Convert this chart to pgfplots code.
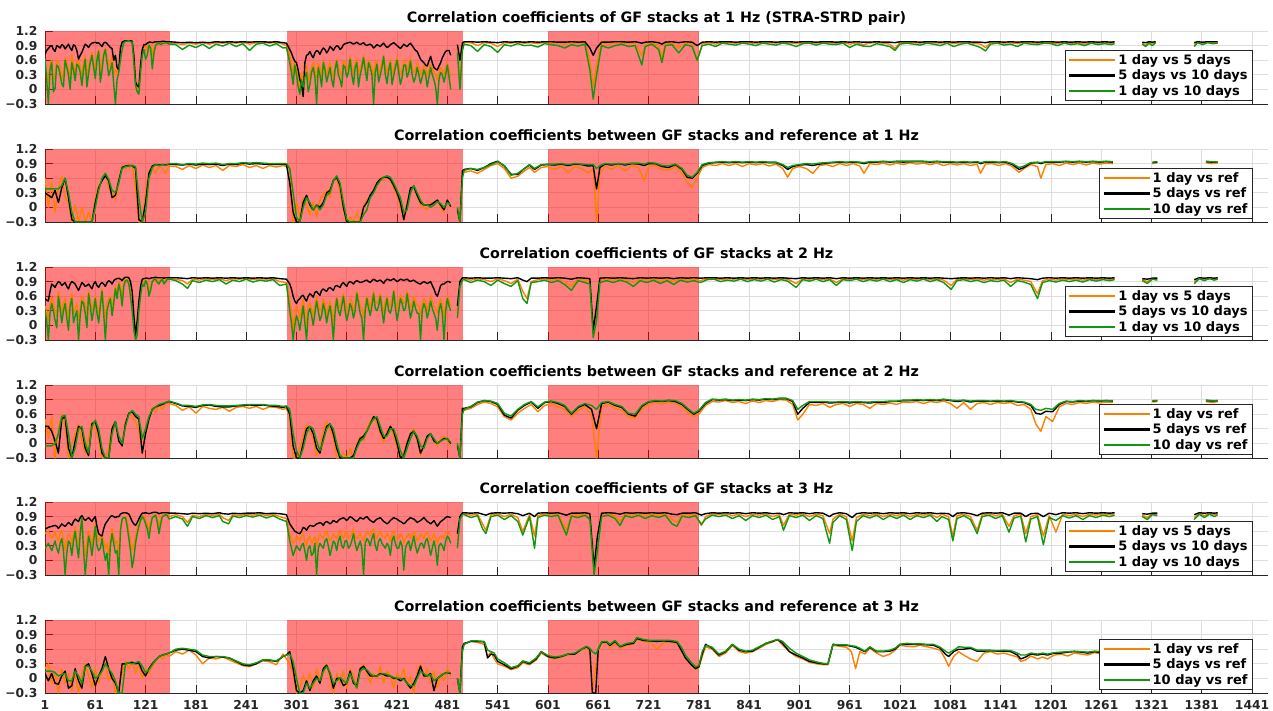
\documentclass[border=0pt]{standalone}
\usepackage{pgfplots}
\pgfplotsset{compat=1.18}
\usepackage{pgfplotstable}
\usepackage{fontspec}
\setmainfont{DejaVu Sans}

\definecolor{corange}{RGB}{255,128,0}
\definecolor{cgreen}{RGB}{18,150,18}
\definecolor{axgray}{RGB}{38,38,38}

% ---------------- 1 Hz, stack vs stack ----------------
\pgfplotstableread{
x o k g
1 0.55 0.72 0.62
3 0.35 0.80 0.20
5 0.15 0.84 -0.30
7 0.50 0.88 0.40
9 0.62 0.90 0.55
11 0.20 0.82 -0.05
13 0.28 0.78 0.02
15 0.60 0.90 0.50
17 0.58 0.88 0.46
19 0.45 0.85 0.30
21 0.22 0.92 0.12
23 0.30 0.90 0.05
25 0.66 0.83 0.60
27 0.55 0.88 0.45
29 0.42 0.93 0.30
31 0.20 0.85 0.00
33 0.72 0.80 0.55
35 0.50 0.92 0.40
37 0.33 0.89 0.18
39 0.60 0.80 0.52
41 0.58 0.62 0.48
43 0.45 0.70 0.35
45 0.28 0.76 0.08
47 0.55 0.85 0.40
49 0.70 0.93 0.62
51 0.25 0.90 0.05
53 0.48 0.86 0.33
55 0.62 0.92 0.55
57 0.76 0.95 0.70
59 0.55 0.96 0.45
61 0.40 0.97 0.22
63 0.68 0.95 0.60
65 0.82 0.96 0.78
67 0.35 0.92 0.15
69 0.55 0.88 0.38
71 0.75 0.95 0.70
73 0.86 0.97 0.82
75 0.65 0.94 0.55
77 0.48 0.90 0.28
79 0.55 0.86 0.40
81 0.70 0.84 0.55
83 0.30 0.60 0.10
85 0.40 0.70 -0.30
87 0.35 0.45 0.20
89 0.42 0.40 0.35
91 0.70 0.85 0.60
93 0.86 0.97 0.82
95 0.95 0.99 0.95
97 0.99 1.00 0.99
99 1.00 1.00 0.99
101 1.00 1.00 1.00
103 0.99 1.00 0.98
105 0.98 0.99 0.97
107 0.60 0.70 0.55
109 0.20 0.15 0.08
111 0.00 0.08 -0.05
113 -0.05 0.05 -0.10
115 0.40 0.50 0.35
117 0.75 0.82 0.70
119 0.88 0.92 0.82
121 0.90 0.92 0.62
123 0.80 0.95 0.70
125 0.95 0.97 0.90
127 0.90 0.97 0.85
129 0.70 0.96 0.42
131 0.85 0.97 0.75
133 0.93 0.98 0.90
135 0.96 0.98 0.94
137 0.97 0.98 0.95
139 0.95 0.98 0.92
141 0.96 0.99 0.94
143 0.97 0.99 0.95
145 0.98 0.98 0.96
147 0.96 0.98 0.95
149 0.95 0.98 0.93
157 0.95 0.97 0.92
165 0.92 0.96 0.82
173 0.95 0.97 0.91
181 0.93 0.96 0.86
189 0.96 0.97 0.93
197 0.93 0.96 0.84
205 0.96 0.98 0.93
213 0.95 0.97 0.89
221 0.97 0.98 0.95
229 0.95 0.97 0.88
237 0.97 0.98 0.94
245 0.93 0.97 0.80
253 0.96 0.98 0.93
261 0.97 0.98 0.95
269 0.95 0.97 0.89
277 0.97 0.98 0.94
285 0.93 0.96 0.85
289 0.90 0.95 0.86
293 0.70 0.82 0.55
295 0.50 0.75 0.35
297 0.30 0.65 0.10
299 0.60 0.58 0.50
301 0.45 0.55 0.30
303 0.25 0.40 0.05
305 0.05 0.20 -0.10
307 0.35 0.10 0.20
309 0.20 -0.15 0.05
311 0.40 0.55 0.25
313 0.50 0.70 0.35
315 0.15 0.72 -0.05
317 0.30 0.78 0.10
319 0.45 0.70 0.35
321 0.55 0.65 0.45
323 0.40 0.75 0.25
325 0.20 0.80 -0.30
327 0.55 0.78 0.45
329 0.45 0.72 0.30
331 0.25 0.80 0.05
333 0.60 0.85 0.55
335 0.50 0.82 0.40
337 0.30 0.75 0.15
339 0.45 0.80 0.30
341 0.55 0.88 0.45
343 0.35 0.85 0.20
345 0.25 0.80 0.05
347 0.50 0.86 0.40
349 0.62 0.90 0.58
351 0.45 0.88 0.30
353 0.35 0.82 0.20
355 0.25 0.85 0.05
357 0.58 0.92 0.50
359 0.55 0.94 0.45
361 0.40 0.95 0.25
363 0.50 0.96 0.35
365 0.68 0.97 0.62
367 0.45 0.95 0.30
369 0.32 0.93 0.10
371 0.55 0.95 0.45
373 0.62 0.97 0.55
375 0.30 0.94 0.05
377 0.45 0.92 0.30
379 0.55 0.94 0.45
381 0.70 0.96 0.65
383 0.50 0.92 0.40
385 0.38 0.90 0.18
387 0.60 0.92 0.55
389 0.55 0.93 0.45
391 0.45 0.90 0.30
393 0.25 0.85 -0.30
395 0.50 0.88 0.35
397 0.60 0.92 0.52
399 0.35 0.90 0.15
401 0.42 0.88 0.30
403 0.55 0.92 0.45
405 0.70 0.95 0.68
407 0.45 0.90 0.30
409 0.35 0.86 0.12
411 0.50 0.88 0.40
413 0.62 0.92 0.55
415 0.30 0.94 0.10
417 0.40 0.96 0.28
419 0.55 0.93 0.45
421 0.66 0.90 0.60
423 0.50 0.87 0.35
425 0.30 0.84 0.10
427 0.40 0.88 0.25
429 0.58 0.93 0.50
431 0.60 0.90 0.50
433 0.40 0.88 0.25
435 0.50 0.92 0.35
437 0.65 0.95 0.58
439 0.45 0.90 0.30
441 0.35 0.85 0.15
443 0.40 0.80 0.25
445 0.55 0.78 0.45
447 0.45 0.70 0.30
449 0.30 0.62 0.12
451 0.40 0.58 0.25
453 0.50 0.55 0.40
455 0.45 0.50 0.30
457 0.28 0.48 0.05
459 0.40 0.58 0.25
461 0.52 0.68 0.45
463 0.45 0.55 0.30
465 0.35 0.45 0.20
467 0.30 0.42 0.05
469 0.20 0.40 -0.30
471 0.35 0.48 0.20
473 0.45 0.55 0.35
475 0.40 0.65 0.30
477 0.30 0.72 0.15
479 0.45 0.78 0.30
481 0.55 0.80 0.50
483 0.40 0.80 0.25
485 0.25 0.70 0.00
489 nan nan nan
493 0.85 0.92 0.75
496 0.10 0.60 0.00
499 0.85 0.95 0.80
501 0.97 0.98 0.93
509 0.96 0.98 0.90
517 0.90 0.97 0.78
525 0.96 0.98 0.92
533 0.95 0.97 0.88
541 0.88 0.96 0.76
549 0.96 0.98 0.92
557 0.95 0.97 0.89
565 0.97 0.98 0.94
573 0.95 0.97 0.90
581 0.96 0.98 0.91
589 0.94 0.97 0.87
597 0.97 0.98 0.94
605 0.96 0.98 0.92
613 0.95 0.97 0.90
621 0.93 0.97 0.85
629 0.96 0.98 0.92
637 0.95 0.97 0.89
645 0.96 0.98 0.93
651 0.60 0.85 0.40
655 0.05 0.70 -0.20
659 0.50 0.85 0.30
665 0.95 0.97 0.90
673 0.93 0.97 0.85
681 0.95 0.98 0.90
689 0.96 0.98 0.93
697 0.94 0.97 0.88
705 0.95 0.98 0.90
713 0.70 0.95 0.50
717 0.92 0.97 0.88
725 0.96 0.98 0.93
733 0.90 0.96 0.82
737 0.65 0.93 0.55
741 0.93 0.97 0.90
749 0.95 0.98 0.92
757 0.85 0.96 0.75
765 0.95 0.98 0.92
773 0.93 0.97 0.88
779 0.58 0.90 0.60
785 0.94 0.97 0.90
793 0.96 0.98 0.93
801 0.93 0.97 0.88
809 0.97 0.98 0.95
817 0.96 0.98 0.93
825 0.95 0.97 0.91
833 0.97 0.98 0.95
841 0.96 0.98 0.93
849 0.94 0.97 0.90
857 0.97 0.98 0.95
865 0.96 0.98 0.93
873 0.95 0.97 0.91
881 0.97 0.98 0.95
889 0.96 0.98 0.93
897 0.94 0.97 0.88
905 0.96 0.98 0.94
913 0.97 0.98 0.95
921 0.95 0.97 0.91
929 0.97 0.98 0.95
937 0.96 0.98 0.93
945 0.95 0.97 0.92
953 0.97 0.98 0.95
961 0.93 0.97 0.86
969 0.96 0.98 0.93
977 0.92 0.97 0.89
985 0.95 0.97 0.88
993 0.97 0.98 0.94
1001 0.95 0.97 0.91
1009 0.93 0.97 0.88
1015 0.84 0.96 0.80
1021 0.96 0.98 0.93
1029 0.97 0.98 0.95
1037 0.96 0.98 0.93
1045 0.95 0.97 0.91
1053 0.97 0.98 0.95
1061 0.96 0.98 0.93
1069 0.95 0.97 0.90
1077 0.97 0.98 0.95
1085 0.94 0.97 0.88
1093 0.96 0.98 0.93
1101 0.97 0.98 0.95
1109 0.95 0.97 0.91
1117 0.93 0.97 0.86
1123 0.86 0.96 0.79
1129 0.96 0.98 0.93
1137 0.97 0.98 0.95
1145 0.95 0.97 0.91
1153 0.96 0.98 0.93
1161 0.94 0.97 0.88
1169 0.97 0.98 0.95
1177 0.96 0.98 0.93
1185 0.95 0.97 0.92
1193 0.97 0.98 0.95
1201 0.96 0.98 0.94
1209 0.94 0.97 0.90
1217 0.97 0.98 0.95
1225 0.95 0.97 0.92
1233 0.96 0.98 0.94
1241 0.93 0.97 0.90
1249 0.97 0.98 0.95
1257 0.95 0.97 0.92
1265 0.96 0.98 0.94
1273 0.95 0.97 0.92
1277 0.96 0.98 0.94
1281 nan nan nan
1310 0.95 0.97 0.93
1314 0.90 0.96 0.88
1318 0.97 0.98 0.95
1322 0.95 0.97 0.90
1326 0.97 0.98 0.96
1330 nan nan nan
1372 0.92 0.96 0.88
1376 0.97 0.98 0.96
1382 0.95 0.97 0.92
1388 0.97 0.98 0.96
1394 0.96 0.98 0.94
1400 0.97 0.98 0.95
}\stacksA

% ---------------- 1 Hz, stack vs reference ----------------
\pgfplotstableread{
x o k g
1 0.60 0.30 0.38
5 0.00 0.25 0.38
9 0.55 0.20 0.38
13 -0.10 0.35 0.38
17 0.40 0.10 0.38
21 0.65 0.40 0.45
25 0.20 0.60 0.60
29 0.10 0.20 0.30
33 -0.30 -0.25 -0.10
37 0.05 -0.30 -0.30
41 -0.30 -0.30 -0.30
45 0.00 -0.30 -0.30
49 -0.30 -0.30 -0.30
53 -0.10 -0.30 -0.30
57 -0.30 -0.30 -0.30
61 0.20 0.10 0.00
65 0.45 0.40 0.35
69 0.55 0.55 0.60
73 0.70 0.65 0.70
77 0.40 0.55 0.58
81 0.30 0.20 0.35
85 0.15 0.25 0.30
89 0.50 0.55 0.50
93 0.85 0.82 0.80
97 0.80 0.85 0.84
101 0.82 0.86 0.85
105 0.85 0.86 0.86
109 0.40 0.80 0.84
113 -0.30 -0.25 0.20
117 -0.30 -0.30 -0.30
121 0.30 0.10 -0.10
125 0.75 0.70 0.60
129 0.80 0.85 0.82
133 0.70 0.88 0.88
137 0.85 0.87 0.86
141 0.80 0.88 0.88
145 0.70 0.87 0.86
149 0.85 0.89 0.90
157 0.84 0.88 0.90
165 0.78 0.87 0.88
173 0.86 0.89 0.90
181 0.80 0.87 0.89
189 0.87 0.89 0.91
197 0.82 0.88 0.90
205 0.86 0.89 0.91
213 0.76 0.86 0.88
221 0.86 0.89 0.90
229 0.84 0.88 0.90
237 0.88 0.91 0.92
245 0.82 0.89 0.91
253 0.86 0.90 0.92
261 0.80 0.89 0.91
269 0.86 0.89 0.90
277 0.83 0.88 0.90
285 0.86 0.89 0.90
289 0.84 0.88 0.90
293 0.80 0.50 0.80
297 -0.30 -0.10 0.30
301 0.10 -0.30 -0.20
305 -0.20 -0.30 -0.30
309 0.20 0.10 0.00
313 0.05 0.25 0.20
317 -0.15 0.05 0.10
321 0.10 -0.05 -0.05
325 -0.20 0.05 0.05
329 0.15 0.00 -0.05
333 0.25 0.10 0.05
337 0.35 0.30 0.25
341 0.20 0.35 0.30
345 0.55 0.55 0.55
349 0.60 0.62 0.65
353 0.30 0.45 0.50
357 -0.05 0.00 0.10
361 -0.30 -0.30 -0.25
365 -0.20 -0.30 -0.30
369 -0.30 -0.30 -0.30
373 -0.10 -0.30 -0.30
377 -0.30 -0.30 -0.30
381 0.05 0.00 -0.15
385 0.15 0.10 -0.05
389 0.20 0.25 0.20
393 0.35 0.35 0.30
397 0.50 0.50 0.45
401 0.60 0.58 0.55
405 0.55 0.62 0.62
409 0.65 0.62 0.65
413 0.55 0.58 0.62
417 0.40 0.45 0.50
421 0.25 0.30 0.35
425 0.00 0.10 0.20
429 -0.25 -0.25 -0.10
433 0.10 0.05 -0.05
437 0.35 0.40 0.30
441 0.45 0.42 0.45
445 0.20 0.25 0.30
449 0.05 0.10 0.15
453 0.00 0.05 0.05
457 -0.05 0.05 0.05
461 0.10 0.05 0.00
465 0.05 0.10 0.05
469 0.15 0.15 0.12
473 0.00 0.05 0.08
477 -0.10 -0.05 0.00
481 0.15 0.15 0.10
485 0.00 0.02 0.05
489 nan nan nan
493 0.00 -0.05 0.00
496 -0.30 -0.30 -0.30
499 0.70 0.75 0.60
501 0.72 0.78 0.76
509 0.75 0.80 0.80
517 0.70 0.76 0.78
525 0.78 0.82 0.82
533 0.86 0.90 0.88
541 0.90 0.95 0.94
549 0.80 0.85 0.86
557 0.60 0.68 0.66
565 0.64 0.68 0.70
573 0.75 0.80 0.80
579 0.82 0.87 0.88
585 0.72 0.78 0.80
593 0.82 0.87 0.88
601 0.84 0.88 0.89
609 0.78 0.87 0.89
617 0.85 0.89 0.90
625 0.72 0.86 0.88
633 0.84 0.89 0.90
641 0.80 0.88 0.89
649 0.70 0.85 0.88
655 0.80 0.86 0.88
659 -0.30 0.38 0.80
663 0.70 0.82 0.86
669 0.85 0.89 0.90
677 0.78 0.87 0.89
685 0.86 0.90 0.90
693 0.75 0.87 0.89
701 0.86 0.90 0.91
709 0.82 0.89 0.91
716 0.55 0.86 0.89
721 0.84 0.90 0.92
729 0.86 0.90 0.91
737 0.78 0.84 0.86
745 0.76 0.82 0.85
753 0.84 0.88 0.89
761 0.70 0.78 0.80
767 0.52 0.62 0.66
773 0.42 0.60 0.62
779 0.60 0.70 0.72
785 0.82 0.86 0.88
793 0.88 0.91 0.92
801 0.86 0.92 0.93
809 0.90 0.93 0.94
817 0.86 0.92 0.93
825 0.90 0.93 0.94
833 0.84 0.92 0.93
841 0.90 0.93 0.94
849 0.87 0.92 0.93
857 0.90 0.93 0.94
865 0.85 0.92 0.93
873 0.89 0.92 0.93
881 0.80 0.86 0.88
887 0.62 0.78 0.82
893 0.80 0.84 0.86
901 0.84 0.87 0.88
909 0.80 0.88 0.90
917 0.70 0.86 0.89
925 0.86 0.89 0.91
933 0.88 0.91 0.92
941 0.84 0.92 0.93
949 0.90 0.93 0.94
957 0.86 0.92 0.93
965 0.90 0.93 0.94
973 0.85 0.92 0.93
978 0.70 0.90 0.92
985 0.90 0.93 0.94
993 0.88 0.93 0.94
1001 0.91 0.94 0.95
1009 0.87 0.93 0.94
1017 0.91 0.94 0.95
1025 0.88 0.93 0.95
1033 0.92 0.94 0.95
1041 0.89 0.94 0.95
1049 0.91 0.94 0.95
1057 0.88 0.93 0.94
1065 0.91 0.94 0.95
1073 0.86 0.93 0.94
1081 0.90 0.93 0.94
1089 0.87 0.92 0.93
1097 0.90 0.93 0.94
1105 0.86 0.92 0.93
1113 0.89 0.93 0.94
1117 0.70 0.90 0.92
1123 0.89 0.93 0.94
1131 0.90 0.93 0.94
1139 0.86 0.92 0.93
1147 0.90 0.93 0.94
1155 0.84 0.88 0.90
1163 0.72 0.78 0.82
1169 0.80 0.82 0.85
1177 0.88 0.91 0.92
1185 0.84 0.92 0.93
1189 0.60 0.90 0.92
1195 0.88 0.93 0.94
1203 0.90 0.93 0.94
1211 0.86 0.93 0.94
1219 0.91 0.94 0.95
1227 0.88 0.93 0.94
1235 0.91 0.94 0.95
1243 0.87 0.93 0.94
1251 0.91 0.94 0.95
1259 0.89 0.93 0.94
1267 0.91 0.94 0.95
1275 0.90 0.93 0.94
1279 nan nan nan
1322 0.90 0.92 0.93
1328 0.92 0.93 0.94
1331 nan nan nan
1386 0.92 0.94 0.95
1392 0.90 0.93 0.94
1400 0.91 0.93 0.93
}\refA

% ---------------- 2 Hz, stack vs stack ----------------
\pgfplotstableread{
x o k g
1 0.40 0.55 0.30
3 0.30 0.52 0.10
5 0.10 0.50 -0.30
7 0.40 0.70 0.25
9 0.60 0.85 0.45
11 0.45 0.82 0.30
13 0.30 0.78 0.10
15 0.20 0.85 -0.05
17 0.70 0.90 0.60
19 0.50 0.88 0.35
21 0.25 0.82 0.05
23 0.45 0.85 0.30
25 0.55 0.88 0.45
27 0.35 0.80 0.15
29 0.15 0.75 -0.10
31 0.50 0.85 0.40
33 0.65 0.90 0.55
35 0.25 0.88 0.05
37 0.35 0.85 0.20
39 0.45 0.78 0.30
41 0.10 0.72 -0.30
43 0.35 0.80 0.20
45 0.60 0.88 0.50
47 0.55 0.85 0.45
49 0.40 0.80 0.25
51 0.20 0.82 -0.05
53 0.70 0.85 0.65
55 0.50 0.80 0.40
57 0.30 0.75 0.10
59 0.45 0.85 0.30
61 0.60 0.90 0.55
63 0.40 0.82 0.25
65 0.20 0.78 0.05
67 0.50 0.85 0.40
69 0.75 0.88 0.70
71 0.40 0.85 0.25
73 0.15 0.80 -0.30
75 0.45 0.88 0.30
77 0.55 0.92 0.45
79 0.60 0.90 0.55
81 0.35 0.85 0.20
83 0.55 0.92 0.45
85 0.80 0.95 0.75
87 0.65 0.96 0.55
89 0.90 0.97 0.85
91 0.80 0.95 0.70
93 0.60 0.92 0.40
95 0.85 0.97 0.80
97 0.95 0.99 0.92
99 0.95 0.99 0.93
101 0.90 0.98 0.85
103 0.75 0.90 0.60
105 0.60 0.70 0.30
107 0.20 0.20 -0.10
109 -0.20 -0.20 -0.30
111 0.00 0.10 -0.20
113 0.40 0.50 0.30
115 0.70 0.80 0.60
117 0.90 0.95 0.85
119 0.85 0.96 0.80
121 0.95 0.97 0.92
123 0.90 0.97 0.85
125 0.70 0.96 0.60
127 0.80 0.97 0.72
129 0.92 0.98 0.90
131 0.96 0.98 0.94
133 0.97 0.99 0.95
135 0.92 0.98 0.88
137 0.90 0.98 0.85
139 0.95 0.98 0.92
141 0.96 0.98 0.94
143 0.90 0.97 0.85
145 0.93 0.98 0.90
147 0.97 0.98 0.95
149 0.96 0.98 0.95
157 0.95 0.98 0.92
165 0.92 0.97 0.85
171 0.85 0.96 0.76
177 0.95 0.98 0.92
185 0.93 0.97 0.88
193 0.96 0.98 0.93
201 0.94 0.97 0.90
209 0.96 0.98 0.94
217 0.92 0.97 0.85
225 0.96 0.98 0.93
233 0.95 0.97 0.90
241 0.97 0.98 0.95
249 0.94 0.97 0.89
257 0.96 0.98 0.93
265 0.95 0.97 0.91
273 0.96 0.98 0.94
281 0.90 0.96 0.82
289 0.88 0.95 0.85
293 0.50 0.85 0.30
295 0.30 0.75 0.05
297 -0.10 0.60 -0.30
299 0.25 0.50 0.00
301 0.40 0.45 0.20
303 0.30 0.52 0.10
305 0.15 0.55 -0.10
307 0.35 0.60 0.15
309 0.55 0.62 0.40
311 0.25 0.55 0.05
313 0.00 0.50 -0.30
315 0.40 0.60 0.25
317 0.45 0.65 0.35
319 0.35 0.62 0.20
321 0.20 0.58 0.00
323 0.40 0.68 0.25
325 0.60 0.70 0.50
327 0.45 0.65 0.30
329 0.30 0.62 0.10
331 0.35 0.72 0.20
333 0.55 0.75 0.45
335 0.45 0.72 0.30
337 0.20 0.70 0.05
339 0.40 0.76 0.25
341 0.50 0.78 0.40
343 0.35 0.75 0.15
345 0.05 0.72 -0.30
347 0.40 0.80 0.25
349 0.60 0.82 0.55
351 0.45 0.80 0.30
353 0.35 0.78 0.20
355 0.50 0.85 0.40
357 0.65 0.88 0.60
359 0.45 0.84 0.30
361 0.25 0.80 0.10
363 0.40 0.88 0.25
365 0.55 0.90 0.45
367 0.50 0.88 0.35
369 0.30 0.85 0.15
371 0.45 0.90 0.30
373 0.70 0.92 0.65
375 0.55 0.90 0.45
377 0.40 0.88 0.25
379 0.35 0.89 0.15
381 0.15 0.90 -0.30
383 0.45 0.92 0.30
385 0.60 0.93 0.55
387 0.50 0.90 0.35
389 0.35 0.88 0.20
391 0.55 0.92 0.40
393 0.70 0.95 0.65
395 0.50 0.93 0.35
397 0.45 0.90 0.30
399 0.55 0.92 0.40
401 0.65 0.93 0.60
403 0.45 0.90 0.30
405 0.25 0.86 0.05
407 0.50 0.92 0.35
409 0.60 0.95 0.55
411 0.45 0.94 0.30
413 0.40 0.92 0.25
415 0.55 0.94 0.40
417 0.72 0.96 0.70
419 0.50 0.93 0.35
421 0.30 0.90 0.10
423 0.45 0.92 0.30
425 0.62 0.95 0.55
427 0.55 0.94 0.45
429 0.45 0.92 0.30
431 0.50 0.94 0.35
433 0.70 0.95 0.65
435 0.55 0.92 0.40
437 0.35 0.90 0.15
439 0.45 0.92 0.30
441 0.60 0.93 0.50
443 0.50 0.90 0.35
445 0.40 0.88 0.25
447 0.40 0.86 0.25
449 0.20 0.85 -0.30
451 0.45 0.88 0.30
453 0.55 0.90 0.45
455 0.50 0.88 0.35
457 0.30 0.86 0.15
459 0.45 0.88 0.30
461 0.60 0.90 0.50
463 0.50 0.82 0.35
465 0.40 0.75 0.25
467 0.35 0.65 0.15
469 0.25 0.60 -0.10
471 0.45 0.70 0.30
473 0.55 0.82 0.45
475 0.40 0.85 0.25
477 0.15 0.85 -0.30
479 0.45 0.88 0.30
481 0.60 0.90 0.55
483 0.50 0.90 0.40
485 0.40 0.88 0.30
489 nan nan nan
493 0.30 0.40 0.15
496 0.85 0.90 0.80
499 0.95 0.98 0.93
501 0.96 0.98 0.94
509 0.93 0.97 0.88
517 0.96 0.98 0.93
525 0.94 0.97 0.90
533 0.90 0.97 0.82
541 0.96 0.98 0.93
549 0.92 0.97 0.86
557 0.86 0.96 0.80
565 0.95 0.98 0.92
571 0.70 0.93 0.55
576 0.55 0.90 0.45
581 0.90 0.97 0.88
589 0.94 0.97 0.90
597 0.96 0.98 0.93
605 0.93 0.97 0.88
613 0.95 0.98 0.92
621 0.90 0.97 0.84
629 0.80 0.95 0.72
637 0.95 0.98 0.92
645 0.93 0.97 0.88
651 0.90 0.96 0.85
655 -0.15 -0.10 -0.25
659 0.30 0.40 0.10
663 0.92 0.97 0.88
671 0.95 0.98 0.92
679 0.93 0.97 0.88
687 0.96 0.98 0.93
695 0.94 0.97 0.89
703 0.88 0.96 0.80
711 0.95 0.98 0.92
719 0.93 0.97 0.88
727 0.96 0.98 0.93
735 0.92 0.97 0.86
743 0.95 0.98 0.92
751 0.90 0.96 0.84
759 0.96 0.98 0.93
767 0.93 0.97 0.89
775 0.95 0.98 0.92
783 0.92 0.97 0.88
791 0.96 0.98 0.94
799 0.97 0.98 0.95
807 0.94 0.97 0.90
815 0.96 0.98 0.93
823 0.95 0.97 0.91
831 0.97 0.98 0.95
839 0.94 0.97 0.90
847 0.96 0.98 0.94
855 0.95 0.97 0.91
863 0.97 0.98 0.95
871 0.94 0.97 0.89
879 0.96 0.98 0.94
887 0.95 0.97 0.91
897 0.86 0.96 0.78
905 0.96 0.98 0.94
913 0.95 0.97 0.91
921 0.97 0.98 0.95
929 0.94 0.97 0.90
937 0.96 0.98 0.94
945 0.88 0.96 0.82
953 0.96 0.98 0.94
961 0.95 0.97 0.92
969 0.97 0.98 0.95
977 0.94 0.97 0.90
985 0.96 0.98 0.94
993 0.95 0.97 0.91
1001 0.97 0.98 0.95
1009 0.94 0.97 0.90
1017 0.96 0.98 0.94
1025 0.93 0.97 0.88
1033 0.96 0.98 0.94
1041 0.95 0.97 0.91
1049 0.97 0.98 0.95
1057 0.94 0.97 0.90
1065 0.96 0.98 0.94
1073 0.93 0.97 0.88
1082 0.82 0.96 0.74
1089 0.95 0.97 0.92
1097 0.96 0.98 0.94
1105 0.94 0.97 0.90
1113 0.96 0.98 0.93
1121 0.93 0.97 0.88
1129 0.95 0.98 0.92
1137 0.94 0.97 0.90
1145 0.96 0.98 0.93
1153 0.88 0.96 0.80
1161 0.95 0.98 0.92
1169 0.93 0.97 0.89
1177 0.90 0.96 0.84
1185 0.65 0.94 0.55
1191 0.92 0.97 0.88
1199 0.95 0.98 0.92
1207 0.93 0.97 0.89
1215 0.96 0.98 0.93
1223 0.94 0.97 0.90
1231 0.96 0.98 0.93
1239 0.93 0.97 0.89
1247 0.96 0.98 0.94
1255 0.94 0.97 0.91
1263 0.96 0.98 0.94
1271 0.95 0.97 0.92
1277 0.96 0.98 0.94
1281 nan nan nan
1310 0.94 0.96 0.92
1316 0.90 0.95 0.86
1322 0.96 0.97 0.95
1328 0.95 0.97 0.93
1332 nan nan nan
1372 0.90 0.94 0.86
1378 0.97 0.98 0.96
1384 0.94 0.97 0.92
1390 0.97 0.98 0.96
1396 0.95 0.97 0.93
1400 0.97 0.98 0.95
}\stacksB

% ---------------- 2 Hz, stack vs reference ----------------
\pgfplotstableread{
x o k g
1 0.50 0.35 -0.05
5 0.10 0.35 -0.05
9 0.55 0.25 -0.05
13 -0.30 0.05 0.00
17 0.30 -0.20 0.20
21 0.60 0.50 0.55
25 0.35 0.55 0.58
29 -0.30 -0.10 0.20
33 0.00 -0.30 -0.30
37 0.20 0.05 -0.10
41 0.40 0.35 0.30
45 0.05 0.30 0.35
49 -0.20 -0.10 0.00
53 0.10 -0.25 -0.20
57 0.45 0.40 0.35
61 0.30 0.45 0.48
65 0.10 0.20 0.30
69 -0.30 -0.20 -0.10
73 -0.30 -0.30 -0.30
77 -0.10 -0.30 -0.30
81 0.35 0.30 0.20
85 0.40 0.45 0.45
89 0.10 0.05 0.15
93 0.00 -0.05 0.00
97 0.45 0.40 0.35
101 0.60 0.62 0.60
105 0.55 0.65 0.68
109 0.45 0.55 0.60
113 0.25 0.50 0.55
117 -0.15 -0.20 0.10
121 0.30 0.20 0.30
125 0.55 0.50 0.55
129 0.72 0.70 0.70
133 0.65 0.75 0.75
137 0.78 0.78 0.80
141 0.70 0.80 0.82
145 0.82 0.84 0.84
149 0.82 0.86 0.87
157 0.78 0.82 0.83
165 0.68 0.77 0.78
173 0.75 0.76 0.78
181 0.62 0.74 0.76
189 0.76 0.78 0.79
197 0.72 0.79 0.80
205 0.70 0.76 0.78
213 0.74 0.75 0.77
221 0.66 0.75 0.77
229 0.74 0.77 0.78
237 0.76 0.78 0.79
245 0.72 0.79 0.80
253 0.76 0.78 0.80
261 0.70 0.79 0.80
269 0.75 0.77 0.78
277 0.74 0.76 0.78
285 0.70 0.74 0.76
289 0.72 0.76 0.77
293 0.55 0.60 0.70
297 -0.30 -0.05 0.20
301 -0.30 -0.30 -0.15
305 -0.10 -0.30 -0.30
309 0.15 0.00 -0.10
313 0.40 0.30 0.20
317 0.25 0.35 0.35
321 0.10 0.20 0.30
325 -0.25 -0.10 0.05
329 -0.10 -0.20 -0.15
333 0.25 0.10 0.05
337 0.45 0.35 0.30
341 0.30 0.40 0.40
345 0.10 0.20 0.30
349 -0.30 -0.10 0.00
353 -0.30 -0.30 -0.25
357 -0.20 -0.30 -0.30
361 -0.30 -0.30 -0.30
365 -0.10 -0.30 -0.30
369 -0.30 -0.25 -0.30
373 0.00 -0.05 -0.10
377 0.15 0.10 0.05
381 0.05 0.15 0.10
385 0.30 0.25 0.25
389 0.45 0.40 0.40
393 0.55 0.55 0.50
397 0.40 0.50 0.55
401 0.20 0.25 0.35
405 0.00 0.10 0.15
409 0.25 0.20 0.15
413 0.35 0.35 0.30
417 0.15 0.25 0.30
421 -0.10 0.00 0.10
425 -0.30 -0.30 -0.15
429 -0.20 -0.25 -0.30
433 0.05 0.00 -0.10
437 0.20 0.20 0.10
441 0.30 0.25 0.25
445 0.05 0.10 0.15
449 -0.25 -0.20 -0.05
453 0.00 -0.05 -0.10
457 0.15 0.15 0.10
461 0.20 0.20 0.20
465 0.05 0.05 0.10
469 -0.05 0.00 0.00
473 0.10 0.05 0.05
477 0.15 0.10 0.08
481 0.05 0.10 0.10
485 -0.05 0.00 0.02
489 nan nan nan
493 0.00 -0.05 0.00
496 -0.30 -0.30 -0.30
499 0.70 0.72 0.60
501 0.68 0.72 0.70
509 0.72 0.75 0.76
517 0.80 0.84 0.85
525 0.85 0.88 0.88
533 0.82 0.86 0.87
541 0.75 0.80 0.82
549 0.55 0.58 0.62
557 0.48 0.52 0.56
565 0.62 0.68 0.70
573 0.72 0.78 0.80
581 0.80 0.85 0.86
589 0.65 0.72 0.75
597 0.78 0.84 0.85
605 0.82 0.86 0.87
613 0.75 0.82 0.84
621 0.70 0.76 0.78
629 0.55 0.60 0.62
637 0.68 0.74 0.76
645 0.75 0.80 0.82
653 0.60 0.70 0.78
659 -0.30 0.30 0.70
665 0.75 0.82 0.84
673 0.80 0.85 0.86
681 0.72 0.78 0.80
689 0.68 0.74 0.76
697 0.55 0.60 0.62
705 0.52 0.56 0.60
713 0.70 0.76 0.78
721 0.80 0.85 0.86
729 0.84 0.87 0.88
737 0.80 0.86 0.87
745 0.85 0.88 0.89
753 0.82 0.86 0.88
761 0.75 0.80 0.82
769 0.62 0.68 0.70
775 0.55 0.60 0.62
781 0.60 0.66 0.68
789 0.78 0.82 0.84
797 0.86 0.90 0.91
805 0.85 0.89 0.90
813 0.88 0.90 0.91
821 0.84 0.88 0.89
829 0.86 0.89 0.90
837 0.82 0.88 0.89
845 0.87 0.90 0.91
853 0.84 0.89 0.90
861 0.88 0.91 0.92
869 0.86 0.90 0.91
877 0.90 0.92 0.93
885 0.89 0.92 0.93
893 0.80 0.86 0.88
899 0.48 0.60 0.70
905 0.60 0.72 0.78
913 0.80 0.84 0.86
921 0.78 0.84 0.86
929 0.82 0.85 0.86
937 0.74 0.83 0.85
945 0.80 0.84 0.85
953 0.82 0.85 0.86
961 0.76 0.83 0.85
969 0.82 0.85 0.86
977 0.80 0.84 0.85
985 0.72 0.83 0.85
993 0.82 0.85 0.86
1001 0.80 0.84 0.86
1009 0.83 0.86 0.87
1017 0.80 0.86 0.87
1025 0.85 0.88 0.89
1033 0.84 0.88 0.89
1041 0.86 0.89 0.90
1049 0.82 0.88 0.89
1057 0.86 0.89 0.90
1065 0.84 0.88 0.89
1073 0.87 0.90 0.91
1081 0.82 0.88 0.89
1089 0.72 0.86 0.88
1097 0.84 0.88 0.89
1105 0.70 0.85 0.87
1113 0.82 0.87 0.88
1121 0.84 0.87 0.88
1129 0.80 0.86 0.87
1137 0.84 0.87 0.88
1145 0.82 0.86 0.87
1153 0.84 0.87 0.88
1161 0.78 0.85 0.86
1169 0.80 0.84 0.85
1177 0.70 0.78 0.80
1183 0.40 0.62 0.70
1189 0.25 0.60 0.68
1195 0.55 0.66 0.72
1203 0.45 0.65 0.70
1211 0.75 0.80 0.82
1219 0.82 0.86 0.87
1227 0.80 0.85 0.86
1235 0.84 0.87 0.88
1243 0.82 0.86 0.87
1251 0.85 0.88 0.88
1259 0.83 0.87 0.88
1267 0.85 0.88 0.88
1275 0.84 0.87 0.88
1279 nan nan nan
1322 0.85 0.87 0.88
1328 0.86 0.88 0.88
1331 nan nan nan
1386 0.86 0.88 0.89
1394 0.84 0.87 0.88
1400 0.86 0.88 0.88
}\refB

% ---------------- 3 Hz, stack vs stack ----------------
\pgfplotstableread{
x o k g
1 0.55 0.65 0.25
3 0.58 0.66 0.30
5 0.60 0.68 0.35
7 0.52 0.69 0.28
9 0.45 0.70 0.20
11 0.50 0.71 0.30
13 0.58 0.72 0.40
15 0.48 0.70 0.25
17 0.40 0.66 0.15
19 0.55 0.70 0.35
21 0.62 0.75 0.45
23 0.45 0.72 0.20
25 0.20 0.70 -0.30
27 0.40 0.74 0.15
29 0.55 0.78 0.40
31 0.50 0.75 0.35
33 0.35 0.72 0.10
35 0.55 0.80 0.40
37 0.70 0.85 0.60
39 0.45 0.82 0.30
41 0.30 0.80 0.05
43 0.60 0.88 0.55
45 0.85 0.92 0.88
47 0.40 0.86 0.20
49 0.10 0.82 -0.30
51 0.35 0.85 0.10
53 0.60 0.88 0.50
55 0.50 0.84 0.35
57 0.30 0.80 0.10
59 0.55 0.86 0.40
61 0.75 0.90 0.70
63 0.50 0.70 0.30
65 0.40 0.55 0.20
67 0.45 0.52 0.25
69 0.55 0.50 0.45
71 0.40 0.65 0.20
73 0.25 0.75 0.00
75 0.35 0.80 0.15
77 0.10 0.85 -0.30
79 0.45 0.90 0.30
81 0.65 0.92 0.55
83 0.50 0.90 0.35
85 0.35 0.88 0.15
87 0.40 0.90 0.20
89 0.05 0.90 -0.30
91 0.70 0.95 0.60
93 0.85 0.97 0.85
95 0.90 0.98 0.88
97 0.90 0.98 0.88
99 0.80 0.97 0.70
101 0.60 0.95 0.45
103 0.40 0.88 0.20
105 0.20 0.80 -0.15
107 0.30 0.75 0.05
109 0.50 0.72 0.35
111 0.65 0.78 0.55
113 0.80 0.85 0.70
115 0.88 0.92 0.82
117 0.92 0.97 0.90
119 0.90 0.97 0.85
121 0.85 0.98 0.75
123 0.75 0.97 0.65
125 0.60 0.96 0.45
127 0.80 0.97 0.70
129 0.90 0.98 0.88
131 0.93 0.99 0.90
133 0.95 0.99 0.93
135 0.85 0.98 0.78
137 0.70 0.96 0.55
139 0.85 0.97 0.75
141 0.93 0.98 0.90
143 0.95 0.98 0.92
145 0.96 0.98 0.94
147 0.94 0.98 0.92
149 0.90 0.97 0.85
157 0.94 0.97 0.90
165 0.90 0.96 0.85
171 0.78 0.95 0.70
177 0.93 0.97 0.90
185 0.90 0.96 0.86
193 0.95 0.97 0.92
201 0.92 0.96 0.88
209 0.95 0.98 0.92
213 0.88 0.96 0.80
220 0.82 0.95 0.75
225 0.94 0.97 0.91
233 0.92 0.96 0.88
241 0.95 0.97 0.92
249 0.93 0.97 0.89
257 0.96 0.98 0.93
265 0.92 0.96 0.87
273 0.95 0.97 0.92
281 0.90 0.96 0.85
289 0.86 0.94 0.80
293 0.55 0.75 0.40
295 0.45 0.70 0.25
297 0.35 0.65 0.10
299 0.40 0.60 0.20
301 0.50 0.58 0.30
303 0.45 0.56 0.25
305 0.40 0.55 0.20
307 0.50 0.60 0.30
309 0.55 0.68 0.35
311 0.40 0.66 0.20
313 0.30 0.62 0.00
315 0.45 0.68 0.25
317 0.50 0.72 0.30
319 0.35 0.71 0.10
321 0.40 0.70 0.15
323 0.50 0.72 0.35
325 0.30 0.75 -0.30
327 0.45 0.76 0.25
329 0.55 0.78 0.35
331 0.50 0.76 0.30
333 0.45 0.72 0.25
335 0.55 0.78 0.40
337 0.60 0.80 0.45
339 0.50 0.78 0.30
341 0.40 0.75 0.10
343 0.45 0.78 0.25
345 0.55 0.82 0.40
347 0.50 0.80 0.35
349 0.45 0.78 0.20
351 0.55 0.82 0.40
353 0.62 0.85 0.50
355 0.50 0.86 0.30
357 0.45 0.88 0.25
359 0.55 0.85 0.40
361 0.60 0.82 0.40
363 0.45 0.86 0.25
365 0.50 0.90 0.30
367 0.55 0.88 0.40
369 0.65 0.85 0.55
371 0.50 0.82 0.35
373 0.45 0.80 0.20
375 0.50 0.84 0.30
377 0.55 0.88 0.40
379 0.45 0.86 0.25
381 0.40 0.85 -0.30
383 0.50 0.88 0.35
385 0.60 0.90 0.45
387 0.55 0.86 0.40
389 0.50 0.82 0.30
391 0.60 0.80 0.45
393 0.65 0.78 0.55
395 0.50 0.82 0.30
397 0.45 0.85 0.20
399 0.55 0.86 0.40
401 0.60 0.88 0.45
403 0.50 0.84 0.35
405 0.50 0.80 0.30
407 0.45 0.78 0.25
409 0.55 0.75 0.35
411 0.50 0.78 0.30
413 0.40 0.82 0.10
415 0.55 0.85 0.40
417 0.60 0.88 0.50
419 0.50 0.86 0.35
421 0.45 0.85 0.25
423 0.45 0.82 0.25
425 0.55 0.80 0.40
427 0.50 0.78 0.30
429 0.35 0.75 -0.20
431 0.45 0.78 0.25
433 0.50 0.82 0.35
435 0.55 0.85 0.40
437 0.45 0.88 0.20
439 0.50 0.86 0.35
441 0.60 0.85 0.50
443 0.50 0.82 0.30
445 0.40 0.78 0.15
447 0.45 0.80 0.25
449 0.55 0.82 0.35
451 0.50 0.85 0.35
453 0.45 0.88 0.25
455 0.55 0.84 0.40
457 0.58 0.80 0.45
459 0.50 0.78 0.30
461 0.40 0.75 0.10
463 0.45 0.78 0.25
465 0.55 0.82 0.40
467 0.45 0.76 0.25
469 0.35 0.70 -0.10
471 0.45 0.75 0.30
473 0.50 0.80 0.35
475 0.50 0.82 0.30
477 0.45 0.85 0.20
479 0.55 0.88 0.40
481 0.60 0.90 0.50
483 0.55 0.89 0.45
485 0.50 0.88 0.35
489 nan nan nan
493 0.40 0.55 0.25
496 0.85 0.90 0.85
499 0.96 0.98 0.94
501 0.96 0.98 0.94
509 0.93 0.97 0.88
517 0.95 0.98 0.92
523 0.75 0.95 0.65
527 0.62 0.93 0.55
533 0.94 0.97 0.90
541 0.96 0.98 0.93
549 0.90 0.97 0.84
557 0.95 0.98 0.92
565 0.88 0.96 0.80
571 0.60 0.92 0.52
579 0.94 0.97 0.90
585 0.50 0.90 0.25
589 0.92 0.97 0.88
597 0.96 0.98 0.93
605 0.94 0.97 0.90
613 0.96 0.98 0.93
619 0.75 0.95 0.68
623 0.62 0.93 0.52
629 0.95 0.97 0.91
637 0.93 0.97 0.88
645 0.96 0.98 0.93
651 0.90 0.96 0.84
656 -0.20 -0.15 -0.30
660 0.40 0.50 0.20
665 0.94 0.97 0.90
673 0.96 0.98 0.93
681 0.92 0.97 0.86
687 0.80 0.95 0.72
693 0.95 0.98 0.92
701 0.93 0.97 0.88
709 0.96 0.98 0.93
717 0.92 0.97 0.86
725 0.95 0.98 0.92
733 0.93 0.97 0.88
741 0.96 0.98 0.93
749 0.84 0.95 0.75
755 0.78 0.94 0.70
761 0.95 0.97 0.91
769 0.93 0.97 0.88
777 0.95 0.98 0.92
784 0.72 0.93 0.74
789 0.90 0.96 0.85
797 0.96 0.98 0.93
805 0.94 0.97 0.90
813 0.96 0.98 0.93
821 0.92 0.97 0.86
829 0.95 0.98 0.92
837 0.90 0.96 0.82
845 0.95 0.98 0.92
853 0.93 0.97 0.88
861 0.96 0.98 0.93
869 0.90 0.96 0.84
877 0.94 0.97 0.90
882 0.72 0.94 0.62
889 0.95 0.98 0.92
897 0.93 0.97 0.88
905 0.96 0.98 0.93
913 0.90 0.96 0.82
921 0.95 0.98 0.92
929 0.92 0.97 0.86
937 0.55 0.90 0.35
941 0.85 0.95 0.78
949 0.95 0.98 0.92
957 0.90 0.96 0.84
964 0.40 0.88 0.20
969 0.88 0.96 0.80
977 0.95 0.98 0.92
985 0.92 0.97 0.87
993 0.96 0.98 0.93
1001 0.90 0.96 0.84
1009 0.95 0.98 0.92
1017 0.92 0.97 0.86
1025 0.96 0.98 0.93
1033 0.90 0.96 0.84
1041 0.95 0.98 0.92
1049 0.93 0.97 0.88
1057 0.96 0.98 0.93
1065 0.88 0.96 0.80
1071 0.95 0.97 0.90
1079 0.90 0.96 0.84
1084 0.50 0.90 0.40
1089 0.92 0.97 0.86
1097 0.95 0.98 0.92
1105 0.90 0.96 0.84
1113 0.62 0.92 0.55
1119 0.94 0.97 0.90
1127 0.96 0.98 0.93
1135 0.92 0.97 0.86
1143 0.95 0.98 0.92
1151 0.70 0.93 0.58
1157 0.92 0.97 0.87
1165 0.95 0.97 0.91
1171 0.55 0.90 0.38
1177 0.90 0.96 0.85
1185 0.94 0.97 0.90
1192 0.50 0.90 0.32
1199 0.92 0.97 0.88
1207 0.58 0.94 0.82
1215 0.95 0.98 0.92
1223 0.92 0.97 0.87
1231 0.95 0.98 0.92
1239 0.90 0.96 0.84
1247 0.95 0.98 0.92
1255 0.93 0.97 0.88
1263 0.96 0.98 0.93
1271 0.94 0.97 0.90
1277 0.96 0.98 0.93
1281 nan nan nan
1310 0.93 0.96 0.90
1316 0.88 0.95 0.84
1322 0.96 0.97 0.94
1328 0.94 0.97 0.92
1332 nan nan nan
1372 0.88 0.94 0.84
1378 0.97 0.98 0.95
1384 0.92 0.97 0.88
1390 0.97 0.98 0.95
1396 0.94 0.97 0.90
1400 0.96 0.98 0.94
}\stacksC

% ---------------- 3 Hz, stack vs reference ----------------
\pgfplotstableread{
x o k g
1 0.20 0.10 0.15
5 0.30 -0.05 0.15
9 -0.10 0.10 0.15
13 0.15 -0.10 0.12
17 -0.30 -0.12 0.05
21 0.20 0.05 0.08
25 -0.10 0.15 0.10
29 0.10 -0.20 -0.05
33 -0.25 -0.15 -0.05
37 0.15 0.20 0.15
41 -0.30 -0.05 0.05
45 0.10 -0.20 -0.10
49 0.30 0.25 0.25
53 0.05 0.30 0.25
57 -0.20 0.10 0.15
61 0.20 -0.15 0.00
65 -0.10 0.05 0.05
69 0.15 0.20 0.15
73 0.30 0.45 0.30
77 -0.05 0.20 0.20
81 0.10 0.00 0.10
85 -0.30 -0.10 -0.05
89 -0.15 -0.30 -0.30
93 0.10 0.30 -0.30
97 0.35 0.30 0.30
101 0.20 0.32 0.32
105 0.35 0.33 0.30
109 0.10 0.30 0.32
113 0.30 0.32 0.35
117 0.00 0.15 0.25
121 0.20 0.05 0.12
125 0.10 0.20 0.18
129 0.25 0.30 0.28
133 0.35 0.38 0.38
137 0.45 0.45 0.45
141 0.40 0.48 0.48
145 0.50 0.50 0.50
149 0.45 0.52 0.52
157 0.55 0.58 0.60
165 0.50 0.60 0.62
173 0.58 0.58 0.60
181 0.48 0.55 0.58
189 0.30 0.45 0.48
197 0.42 0.42 0.45
205 0.40 0.45 0.45
213 0.44 0.44 0.45
221 0.38 0.42 0.42
229 0.32 0.35 0.36
237 0.26 0.28 0.30
245 0.24 0.26 0.28
253 0.30 0.30 0.32
261 0.36 0.38 0.38
269 0.34 0.37 0.38
277 0.28 0.35 0.36
285 0.50 0.45 0.45
289 0.40 0.48 0.48
293 0.30 0.55 0.50
297 0.10 0.20 0.35
301 -0.30 -0.25 0.00
305 -0.20 -0.30 -0.30
309 0.05 -0.25 -0.30
313 -0.10 -0.05 -0.10
317 0.10 -0.25 -0.20
321 -0.20 -0.05 -0.10
325 0.20 0.05 0.00
329 -0.05 -0.10 -0.05
333 0.10 0.20 0.15
337 0.30 0.27 0.25
341 0.00 0.10 0.12
345 -0.30 -0.20 -0.10
349 0.10 0.00 -0.05
353 -0.10 0.00 0.02
357 0.15 -0.15 -0.05
361 -0.20 -0.10 -0.10
365 0.20 0.15 0.10
369 0.05 -0.10 -0.05
373 -0.20 -0.15 -0.20
377 0.15 0.20 0.15
381 0.30 0.25 0.20
385 0.10 0.15 0.18
389 -0.10 0.05 0.10
393 0.10 0.05 0.05
397 0.00 0.05 0.05
401 0.25 0.10 0.08
405 -0.10 0.08 0.10
409 0.15 0.05 0.08
413 0.05 0.05 0.05
417 -0.20 0.00 0.02
421 0.10 0.00 0.00
425 0.00 -0.05 0.00
429 0.20 0.00 -0.02
433 -0.15 -0.10 -0.10
437 0.05 -0.20 -0.15
441 -0.30 -0.10 -0.15
445 0.15 0.05 0.00
449 0.30 0.25 0.15
453 0.00 0.05 0.10
457 0.20 0.05 0.05
461 -0.10 0.10 0.08
465 0.15 -0.25 -0.05
469 -0.20 0.00 0.00
473 0.10 0.05 0.05
477 -0.05 0.10 0.10
481 0.20 0.12 0.12
485 0.05 0.10 0.12
489 nan nan nan
493 0.00 0.00 0.00
496 -0.30 -0.30 -0.30
499 0.60 0.65 0.55
501 0.70 0.72 0.70
509 0.76 0.76 0.77
517 0.74 0.76 0.77
525 0.70 0.75 0.76
529 0.45 0.42 0.58
533 0.55 0.50 0.55
537 0.40 0.48 0.52
541 0.30 0.35 0.40
549 0.25 0.28 0.32
557 0.18 0.20 0.22
565 0.22 0.25 0.26
571 0.32 0.35 0.36
579 0.28 0.30 0.32
587 0.38 0.40 0.42
593 0.52 0.55 0.55
601 0.44 0.45 0.47
609 0.40 0.42 0.44
617 0.44 0.45 0.46
625 0.48 0.50 0.50
633 0.50 0.50 0.52
641 0.58 0.60 0.60
647 0.65 0.65 0.66
651 0.50 0.60 0.62
654 -0.30 -0.30 0.55
658 0.30 -0.30 0.50
661 0.55 0.60 0.60
665 0.72 0.74 0.75
671 0.74 0.75 0.76
675 0.62 0.68 0.70
681 0.72 0.76 0.78
687 0.62 0.65 0.66
695 0.68 0.70 0.72
703 0.70 0.72 0.74
707 0.80 0.82 0.84
715 0.76 0.78 0.80
723 0.74 0.77 0.78
731 0.60 0.76 0.78
739 0.74 0.77 0.78
747 0.75 0.76 0.78
755 0.72 0.74 0.76
761 0.55 0.55 0.62
765 0.40 0.42 0.48
771 0.30 0.30 0.35
777 0.18 0.20 0.24
781 0.22 0.24 0.26
785 0.45 0.50 0.55
789 0.65 0.70 0.68
797 0.60 0.62 0.64
805 0.45 0.48 0.50
813 0.52 0.55 0.56
821 0.68 0.70 0.70
829 0.55 0.58 0.60
837 0.52 0.55 0.56
845 0.55 0.56 0.58
853 0.62 0.64 0.65
861 0.70 0.72 0.72
869 0.75 0.76 0.77
875 0.80 0.80 0.80
881 0.68 0.72 0.76
889 0.55 0.55 0.62
897 0.45 0.48 0.52
905 0.40 0.42 0.45
913 0.33 0.35 0.38
921 0.30 0.32 0.34
929 0.28 0.30 0.31
935 0.28 0.30 0.30
941 0.68 0.70 0.70
949 0.66 0.68 0.69
957 0.64 0.68 0.69
963 0.55 0.66 0.67
968 0.20 0.64 0.66
973 0.55 0.60 0.62
979 0.50 0.55 0.56
985 0.62 0.64 0.65
993 0.52 0.55 0.56
1001 0.45 0.55 0.56
1009 0.50 0.56 0.58
1015 0.58 0.60 0.62
1021 0.68 0.70 0.70
1029 0.66 0.70 0.72
1037 0.65 0.70 0.71
1045 0.68 0.70 0.71
1053 0.65 0.69 0.70
1061 0.62 0.68 0.70
1069 0.58 0.62 0.64
1075 0.40 0.50 0.56
1079 0.25 0.45 0.52
1085 0.45 0.55 0.58
1091 0.55 0.60 0.65
1097 0.48 0.60 0.64
1105 0.40 0.62 0.64
1113 0.35 0.56 0.58
1121 0.52 0.56 0.58
1129 0.55 0.57 0.58
1137 0.50 0.56 0.57
1145 0.52 0.56 0.58
1153 0.48 0.55 0.57
1161 0.44 0.48 0.52
1165 0.35 0.40 0.48
1171 0.38 0.44 0.48
1177 0.46 0.50 0.52
1185 0.40 0.48 0.50
1191 0.44 0.50 0.52
1197 0.40 0.48 0.50
1205 0.48 0.52 0.53
1213 0.50 0.52 0.54
1221 0.46 0.54 0.55
1229 0.52 0.55 0.56
1237 0.50 0.54 0.55
1245 0.48 0.52 0.54
1253 0.53 0.55 0.56
1261 0.50 0.53 0.55
1269 0.54 0.55 0.56
1275 0.53 0.55 0.56
}\refC

% shared look of the six panels
\pgfplotsset{
  panel/.style={
    scale only axis, width=1223pt, height=73pt,
    anchor=north west,
    xmin=1, xmax=1460, ymin=-0.3, ymax=1.2,
    xtick={1,61,...,1441},
    ytick={-0.3,0,0.3,0.6,0.9,1.2},
    yticklabels={−0.3,0,0.3,0.6,0.9,1.2},
    xticklabels={},
    axis x line*=bottom, axis y line*=left,
    axis line style={-, draw=axgray, line width=0.7pt},
    every outer x axis line/.append style={-},
    every outer y axis line/.append style={-},
    tick align=inside, major tick length=8pt,
    major tick style={draw=axgray, line width=0.7pt},
    grid=major, major grid style={draw=black!13, line width=0.7pt},
    tick label style={font=\bfseries\fontsize{12.3}{14}\selectfont, text=axgray},
    yticklabel style={xshift=-4pt},
    xticklabel style={yshift=-4pt},
    /pgf/number format/.cd, 1000 sep={}, assume math mode=true, /pgfplots/.cd,
    title style={at={(0.5,1)}, anchor=base, yshift=2.5pt, inner sep=0pt,
      font=\bfseries\fontsize{14.3}{16}\selectfont},
    unbounded coords=jump,
    legend cell align=left,
    legend image code/.code={\draw[#1, line width=2.2pt] (0pt,0pt) -- (46pt,0pt);},
    legend style={at={(1,0)}, anchor=south east, xshift=-15pt, yshift=3pt,
      draw=axgray, line width=0.8pt, fill=white, inner xsep=3pt, inner ysep=2pt,
      font=\bfseries\fontsize{13}{15}\selectfont,
      /tikz/every even column/.append style={column sep=2pt}},
  },
  series/.style={line width=1.4pt, line join=round},
}

% campaign windows shaded in red, then the three curves of one table
\newcommand{\campaigns}{%
  \addplot[draw=none, fill=red, fill opacity=0.5, forget plot]
    coordinates {(1,-0.3) (1,1.2) (150,1.2) (150,-0.3)} -- cycle;
  \addplot[draw=none, fill=red, fill opacity=0.5, forget plot]
    coordinates {(290,-0.3) (290,1.2) (500,1.2) (500,-0.3)} -- cycle;
  \addplot[draw=none, fill=red, fill opacity=0.5, forget plot]
    coordinates {(601,-0.3) (601,1.2) (781,1.2) (781,-0.3)} -- cycle;
}
\newcommand{\curves}[1]{%
  \addplot[series, corange] table[x=x, y=o] {#1};
  \addplot[series, black]   table[x=x, y=k] {#1};
  \addplot[series, cgreen]  table[x=x, y=g] {#1};
}

\begin{document}
\begin{tikzpicture}
\path[use as bounding box] (0pt,0pt) rectangle (1273pt,-711pt);

\begin{axis}[panel, at={(45pt,-31pt)},
  title={Correlation coefficients of GF stacks at 1 Hz (STRA-STRD pair)}]
  \campaigns
  \curves{\stacksA}
  \legend{1 day vs 5 days, 5 days vs 10 days, 1 day vs 10 days}
\end{axis}

\begin{axis}[panel, at={(45pt,-149pt)},
  title={Correlation coefficients between GF stacks and reference at 1 Hz}]
  \campaigns
  \curves{\refA}
  \legend{1 day vs ref, 5 days vs ref, 10 day vs ref}
\end{axis}

\begin{axis}[panel, at={(45pt,-267pt)},
  title={Correlation coefficients of GF stacks at 2 Hz}]
  \campaigns
  \curves{\stacksB}
  \legend{1 day vs 5 days, 5 days vs 10 days, 1 day vs 10 days}
\end{axis}

\begin{axis}[panel, at={(45pt,-385pt)},
  title={Correlation coefficients between GF stacks and reference at 2 Hz}]
  \campaigns
  \curves{\refB}
  \legend{1 day vs ref, 5 days vs ref, 10 day vs ref}
\end{axis}

\begin{axis}[panel, at={(45pt,-502pt)},
  title={Correlation coefficients of GF stacks at 3 Hz}]
  \campaigns
  \curves{\stacksC}
  \legend{1 day vs 5 days, 5 days vs 10 days, 1 day vs 10 days}
\end{axis}

\begin{axis}[panel, at={(45pt,-620pt)},
  xticklabels={1,61,121,181,241,301,361,421,481,541,601,661,721,781,841,901,961,1021,1081,1141,1201,1261,1321,1381,1441},
  title={Correlation coefficients between GF stacks and reference at 3 Hz}]
  \campaigns
  \curves{\refC}
  \legend{1 day vs ref, 5 days vs ref, 10 day vs ref}
\end{axis}
\end{tikzpicture}
\end{document}
